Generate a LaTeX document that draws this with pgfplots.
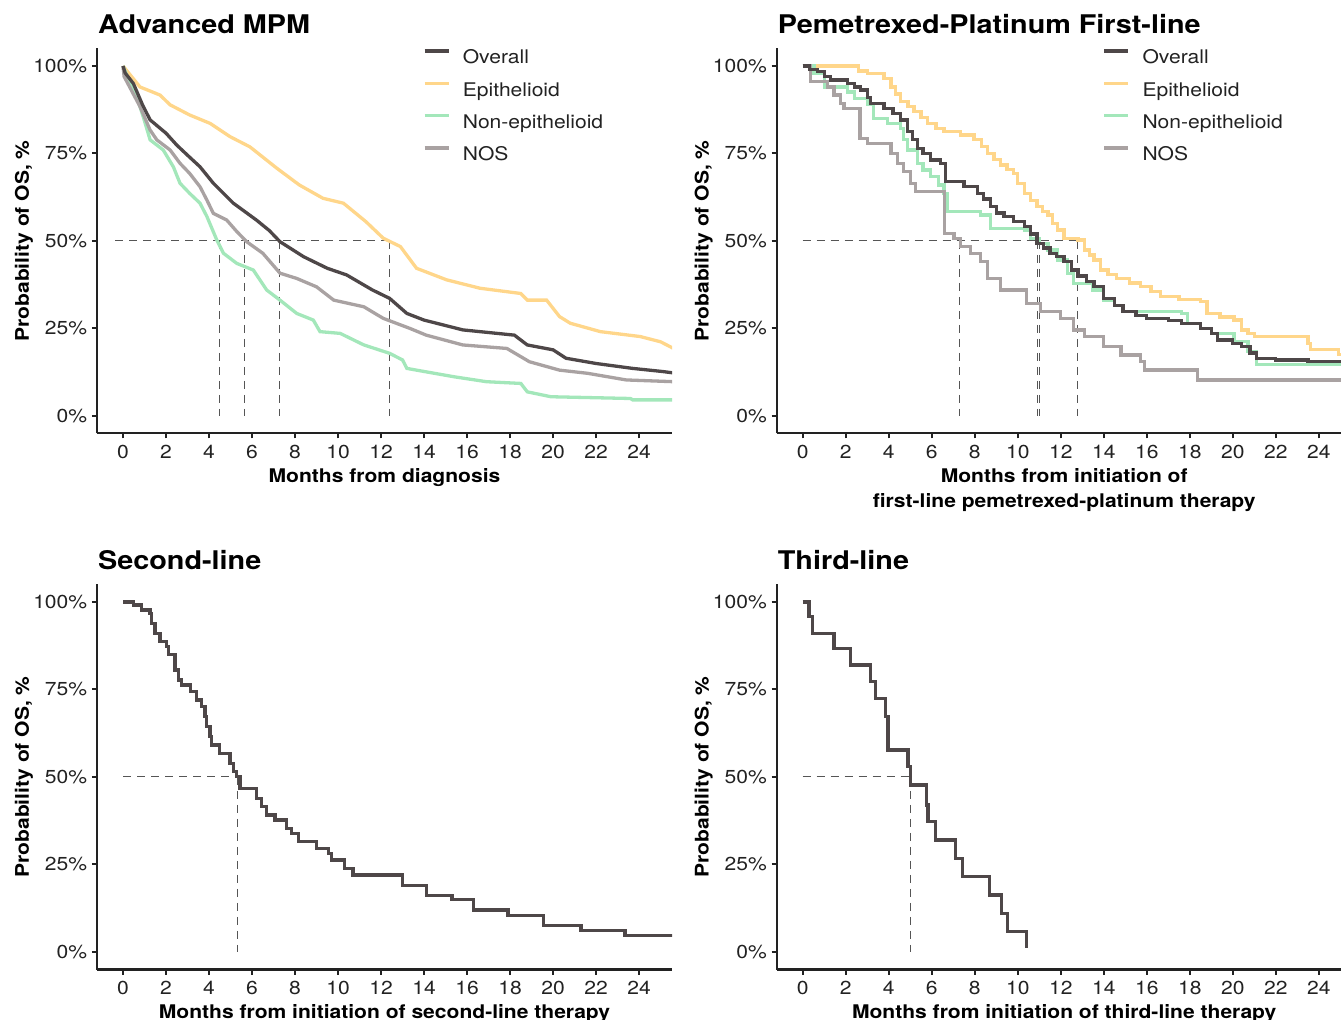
\documentclass[border=0pt]{standalone}
\usepackage{fontspec}
\setmainfont{TeX Gyre Heros}[FakeStretch=1.12]
\usepackage{pgfplots}
\pgfplotsset{compat=1.18}
\definecolor{cOverall}{HTML}{4E4748}
\definecolor{cEpi}{HTML}{FFD68A}
\definecolor{cNon}{HTML}{A3E7BA}
\definecolor{cNos}{HTML}{A9A2A2}
\definecolor{cDash}{HTML}{555555}
\definecolor{cAx}{HTML}{222222}
\newcommand\tickfont{\fontsize{18.8bp}{22bp}\selectfont}
\newcommand\labfont{\fontsize{18.8bp}{25.3bp}\selectfont\bfseries}
\newcommand\titfont{\fontsize{25.7bp}{30bp}\selectfont\bfseries}
\pgfplotsset{
  km/.style={
    scale only axis, width=575bp, height=385bp,
    xmin=-1.21, xmax=25.53, ymin=-5, ymax=105,
    axis lines*=left,
    axis line style={line width=2bp, color=cAx, -},
    every tick/.style={line width=2bp, color=cAx},
    major tick length=5bp, tick align=outside,
    xtick={0,2,...,24}, ytick={0,25,50,75,100},
    yticklabels={0\%,25\%,50\%,75\%,100\%},
    xticklabels={0,2,4,6,8,10,12,14,16,18,20,22,24},
    /pgf/number format/assume math mode=true,
    tick label style={font=\tickfont, color=cAx},
    yticklabel style={inner sep=0pt, xshift=-4.7bp},
    xticklabel style={inner sep=0pt, yshift=-6.5bp},
    every axis y label/.style={at={(axis description cs:-0.1183,0.5)}, rotate=90, anchor=base, font=\labfont, inner sep=0pt},
    every axis x label/.style={at={(axis description cs:0.5,-0.0896)}, anchor=north, font=\labfont, align=center, inner sep=0pt},
    every axis title/.style={at={(axis description cs:0.0017,1.0395)}, anchor=base west, font=\titfont, inner sep=0pt},
    ylabel={Probability of OS, \%},
    legend image code/.code={\draw[##1] (0bp,8bp) -- (24bp,8bp);},
    legend style={at={(axis description cs:0.567,0.998)}, anchor=north west, draw=none, fill=none,
      inner sep=0pt, outer sep=0pt, font=\tickfont, text=cAx, row sep=13.7bp, column sep=12.5bp,
      nodes={inner sep=0pt, text height=14bp, text depth=4bp}},
    legend cell align=left,
  },
  kml/.style={line width=3.3bp},
  med/.style={line width=1bp, color=cDash, dash pattern=on 8bp off 6bp},
}
\begin{document}
\begin{tikzpicture}
\useasboundingbox (0,0) rectangle (1341bp,1020bp);
% ---------------- Panel 1
\begin{axis}[km, at={(97bp,586.5bp)}, anchor=south west,
  title={Advanced MPM}, xlabel={Months from diagnosis}]
\addlegendimage{kml, cOverall}\addlegendentry{Overall}
\addlegendimage{kml, cEpi}\addlegendentry{Epithelioid}
\addlegendimage{kml, cNon}\addlegendentry{Non-epithelioid}
\addlegendimage{kml, cNos}\addlegendentry{NOS}
\addplot[med, forget plot] coordinates {(-0.37,50) (12.37,50)};
\addplot[med, forget plot] coordinates {(4.47,50) (4.47,0)};
\addplot[med, forget plot] coordinates {(5.66,50) (5.66,0)};
\addplot[med, forget plot] coordinates {(7.27,50) (7.27,0)};
\addplot[med, forget plot] coordinates {(12.37,50) (12.37,0)};
\addplot[kml, cEpi, forget plot] coordinates {(0,100) (0.79,94) (1.72,91.7) (2.19,88.9) (3.1,86) (4.05,83.6) (4.98,79.8) (5.9,76.9) (7.15,70.8) (8.2,66) (9.3,62.2) (10.25,60.8) (11.3,55.5) (12.1,50.8) (12.9,48.4) (13.65,42.2) (15.05,38.9) (16.6,36.5) (18.5,35) (18.8,33.1) (19.7,33.1) (20.3,28.4) (20.8,26.5) (22.2,24.1) (24.05,22.7) (25.0,21.2) (25.6,19.3)};
\addplot[kml, cNon, forget plot] coordinates {(0,100) (0.2,97) (0.48,94) (0.94,85.5) (1.26,78.9) (1.87,76) (2.34,71.2) (2.65,66.5) (3.1,63.6) (3.58,60.8) (3.9,57) (4.36,50.3) (4.67,46.5) (5.29,43.6) (6.06,41.7) (6.68,36) (7.3,33.1) (8.08,29.3) (8.85,27.4) (9.16,24.1) (10.1,23.6) (11.2,20.3) (12.4,17.9) (13.0,16) (13.2,13.6) (13.65,13.1) (15.4,11.2) (16.9,9.8) (18.5,9.3) (18.8,6.9) (19.9,5.5) (23.6,5.0) (23.7,4.6) (25.6,4.6)};
\addplot[kml, cNos, forget plot] coordinates {(0,100) (0.05,97) (0.79,88.4) (1.26,81.7) (1.57,78.9) (2.19,76) (2.65,72.2) (3.1,69.3) (3.58,65.5) (3.9,61.7) (4.2,57.9) (4.82,56) (5.29,52.7) (5.75,49.8) (6.5,46.5) (7.3,40.8) (8.08,39.3) (9.0,36.9) (9.8,33.1) (11.2,31.2) (12.1,27.9) (13.35,25) (14.1,23.1) (15.8,20.3) (17.85,19.3) (18.9,15.5) (20.3,13.1) (21.6,12.2) (23.4,10.3) (25.6,9.8)};
\addplot[kml, cOverall, forget plot] coordinates {(0,100) (0.1,98) (0.48,95) (0.9,89) (1.26,84.6) (2.0,80.8) (2.5,77.4) (3.0,74.5) (3.58,71.2) (4.2,66.5) (5.13,60.8) (6.2,56) (6.8,53) (7.3,49.8) (8.4,45.5) (9.5,42.2) (10.4,40.3) (11.6,36) (12.4,33.6) (13.2,29.3) (14.0,27.4) (15.8,24.6) (18.2,23.1) (18.8,20.3) (20.0,18.9) (20.6,16.5) (22.0,15) (23.7,13.6) (25.1,12.7) (25.6,12.3)};
\end{axis}
% ---------------- Panel 2
\begin{axis}[km, at={(776.7bp,586.5bp)}, anchor=south west,
  title={Pemetrexed-Platinum First-line},
  xlabel={Months from initiation of\\first-line pemetrexed-platinum therapy}]
\addlegendimage{kml, cOverall}\addlegendentry{Overall}
\addlegendimage{kml, cEpi}\addlegendentry{Epithelioid}
\addlegendimage{kml, cNon}\addlegendentry{Non-epithelioid}
\addlegendimage{kml, cNos}\addlegendentry{NOS}
\addplot[med, forget plot] coordinates {(0,50) (12.8,50)};
\addplot[med, forget plot] coordinates {(7.3,50) (7.3,0)};
\addplot[med, forget plot] coordinates {(10.9,50) (10.9,0)};
\addplot[med, forget plot] coordinates {(11.02,50) (11.02,0)};
\addplot[med, forget plot] coordinates {(12.8,50) (12.8,0)};
\addplot[kml, cEpi, const plot, forget plot] coordinates {(0,100) (2.6,98.6) (3.0,97.9) (3.78,96.5) (4.1,94) (4.3,92) (4.56,89.8) (4.9,88.4) (5.18,86.9) (5.5,85.3) (5.8,83.6) (6.2,82.2) (6.57,81.2) (7.35,80.3) (7.97,78.9) (8.3,77) (8.6,75) (8.9,73.2) (9.2,71.7) (9.5,70.5) (9.8,69.3) (10.0,66.5) (10.3,63.6) (10.6,61.5) (10.9,59.8) (11.15,58.4) (11.4,57.4) (11.6,55) (11.85,53.1) (12.15,50.8) (12.8,50.3) (13.1,47.4) (13.35,46) (13.55,44.6) (13.86,41.7) (14.2,40.5) (14.6,39.3) (15.2,38) (15.7,36.9) (16.2,35.5) (16.65,34.1) (17.5,33.3) (18.5,32.7) (18.8,29.3) (19.4,28.3) (20.06,27.4) (20.4,24.6) (20.7,23.5) (21.0,22.7) (23.5,20.8) (23.6,18.9) (24.9,17.5) (25.6,17.5)};
\addplot[kml, cNon, const plot, forget plot] coordinates {(0,100) (0.53,97.9) (1.0,94) (2.08,92.6) (2.4,90.8) (3.0,88.9) (3.3,85) (3.94,83.6) (4.56,82.2) (4.7,79) (4.87,76) (5.33,72.2) (5.6,70.3) (5.95,68.4) (6.3,66) (6.57,63.6) (6.73,58.4) (8.28,57.4) (8.74,53.6) (10.3,53.1) (10.6,50.8) (11.0,49.3) (11.4,47.4) (11.85,44.6) (12.3,40.8) (12.6,37.9) (13.5,36) (14.0,33.1) (14.5,31.5) (14.9,29.8) (17.6,29.3) (17.9,26.5) (18.5,25) (19.0,23.6) (20.06,21.2) (20.7,18.4) (21.1,14.8) (25.6,14.8)};
\addplot[kml, cNos, const plot, forget plot] coordinates {(0,100) (0.37,95.5) (1.15,94) (1.46,91.7) (1.77,89.3) (1.92,87.9) (2.66,79.3) (3.0,77.9) (4.1,75) (4.4,72.2) (4.7,69.8) (5.0,66.5) (5.25,64.1) (6.6,52.2) (7.04,50.8) (7.35,48.4) (7.8,46.5) (8.28,44.1) (8.59,39.3) (9.2,36) (10.4,32.2) (11.07,29.8) (12.0,27.9) (12.6,24.6) (13.1,22.7) (14.0,19.8) (14.8,17.4) (15.7,15.5) (15.9,13.1) (18.35,10.3) (25.6,10.3)};
\addplot[kml, cOverall, const plot, forget plot] coordinates {(0,100) (0.3,99) (0.68,98.4) (1.0,97) (1.3,96) (2.08,95) (2.4,94) (2.7,93.1) (3.0,91) (3.16,89.3) (3.78,87.9) (4.2,86.5) (4.56,84.6) (4.87,81.2) (5.1,79) (5.33,76.5) (5.6,75) (5.95,73.1) (6.42,72.2) (6.65,66.9) (7.5,65.5) (8.12,63.6) (8.4,62) (8.74,59.8) (9.0,58) (9.36,56.9) (9.8,55.5) (10.3,54.1) (10.6,52) (10.9,49.3) (11.2,48) (11.5,46.5) (11.8,45.5) (12.15,44.1) (12.5,41.7) (12.8,40) (13.2,38.5) (13.55,36.9) (14.0,33.6) (14.5,31.5) (14.9,29.8) (15.5,28.8) (16.0,27.9) (17.0,27.2) (17.6,26.5) (18.5,25) (19.0,23.5) (19.3,21.7) (20.0,20.8) (20.4,19.8) (20.8,18) (21.1,16.5) (22,16) (23.5,15.5) (25.6,15.5)};
\end{axis}
% ---------------- Panel 3
\begin{axis}[km, at={(97bp,50.5bp)}, anchor=south west,
  title={Second-line}, xlabel={Months from initiation of second-line therapy}]
\addplot[med] coordinates {(0,50) (5.33,50)};
\addplot[med] coordinates {(5.33,50) (5.33,0)};
\addplot[kml, cOverall, const plot] coordinates {(0,100) (0.5,99.1) (0.87,97.7) (1.26,96.8) (1.33,93.9) (1.49,91) (1.72,88.7) (2.03,87.2) (2.1,84.9) (2.42,80.6) (2.57,77.7) (2.73,76.3) (3.15,74.4) (3.43,72) (3.66,70.1) (3.81,67.2) (3.89,64.4) (4.05,61.5) (4.12,59.1) (4.5,56.8) (4.98,53.9) (5.13,51.5) (5.29,50.1) (5.44,46.8) (6.2,43.9) (6.45,41.5) (6.68,39.1) (7.07,37.7) (7.6,35.3) (7.85,33.9) (8.15,31.5) (9.0,29.6) (9.55,28.2) (9.7,26.3) (10.3,23.9) (10.7,22) (13.0,18.9) (14.1,16.1) (15.3,14.9) (16.3,12) (17.9,10.4) (19.55,7.5) (21.3,6.1) (23.35,4.7) (25.6,4.7)};
\end{axis}
% ---------------- Panel 4
\begin{axis}[km, at={(776.7bp,50.5bp)}, anchor=south west,
  title={Third-line}, xlabel={Months from initiation of third-line therapy}]
\addplot[med] coordinates {(0,50) (5.02,50)};
\addplot[med] coordinates {(5.02,50) (5.02,0)};
\addplot[kml, cOverall, const plot] coordinates {(0,100) (0.29,95.8) (0.45,91) (1.46,86.8) (2.23,82) (3.16,77.2) (3.4,72.5) (3.86,67.2) (3.97,57.7) (4.9,52.9) (5.02,47.7) (5.75,42) (5.83,37.2) (6.19,32) (7.12,26.8) (7.43,21.5) (8.67,16.3) (9.24,11) (9.52,5.8) (10.4,1)};
\end{axis}
\end{tikzpicture}
\end{document}
